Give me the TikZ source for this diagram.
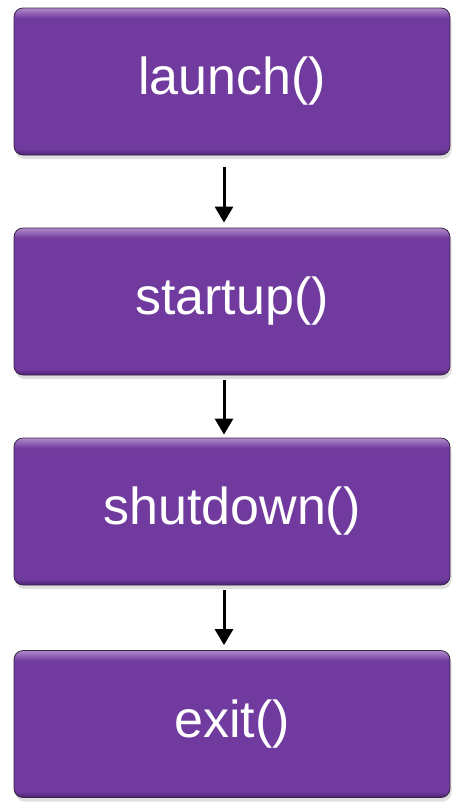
\documentclass[tikz,border=0pt]{standalone}
\usepackage{fontspec}
\setmainfont{Liberation Sans}
\usetikzlibrary{arrows.meta,shadows}
\definecolor{boxpurple}{HTML}{703A9E}
\definecolor{boxlight}{HTML}{B08ACB}
\definecolor{boxdark}{HTML}{4A2470}
\definecolor{boxedge}{HTML}{3A2448}
\pgfdeclareverticalshading{boxshade}{100bp}{color(0bp)=(boxdark); color(25bp)=(boxdark); color(27bp)=(boxpurple); color(71.5bp)=(boxpurple); color(75bp)=(boxlight); color(100bp)=(boxlight)}
\tikzset{
  stepbox/.style={rectangle, rounded corners=9pt, draw=boxedge, line width=0.8pt,
    shading=boxshade, minimum width=436pt, minimum height=147pt, inner sep=0pt,
    text=white, font=\fontsize{52}{60}\selectfont,
    drop shadow={opacity=0.25, shadow xshift=1.5pt, shadow yshift=-4pt}},
  flow/.style={draw=black, line width=3pt, -{Triangle[width=18pt,length=16pt]}}
}
\begin{document}
\begin{tikzpicture}[x=1pt,y=1pt]
\useasboundingbox[fill=white] (0,0) rectangle (453,-807);
\node[stepbox] (b1) at (232,-81.5) {launch()};
\node[stepbox] (b2) at (232,-301.5) {startup()};
\node[stepbox] (b3) at (232,-511.5) {shutdown()};
\node[stepbox] (b4) at (232,-724) {exit()};
\draw[flow] ([xshift=-8pt,yshift=-12pt]b1.south) -- ([xshift=-8pt,yshift=5pt]b2.north);
\draw[flow] ([xshift=-8pt,yshift=-5pt]b2.south) -- ([xshift=-8pt,yshift=3pt]b3.north);
\draw[flow] ([xshift=-8pt,yshift=-5pt]b3.south) -- ([xshift=-8pt,yshift=5pt]b4.north);
\end{tikzpicture}
\end{document}
